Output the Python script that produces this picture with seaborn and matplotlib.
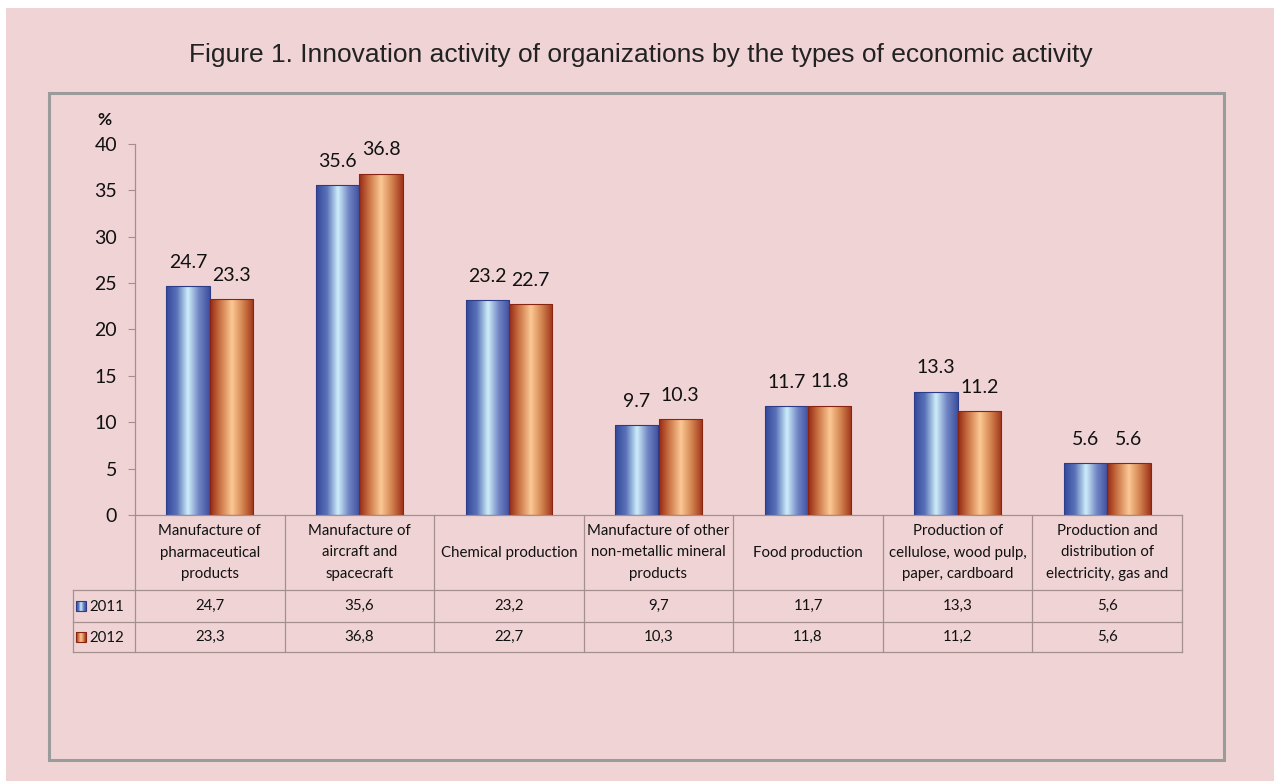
import numpy as np
import pandas as pd
import matplotlib
matplotlib.use('Agg')
import matplotlib.pyplot as plt
from matplotlib.colors import LinearSegmentedColormap
from matplotlib.patches import Rectangle
import seaborn as sns

# data
categories = [
    'Manufacture of\npharmaceutical\nproducts',
    'Manufacture of\naircraft and\nspacecraft',
    'Chemical production',
    'Manufacture of other\nnon-metallic mineral\nproducts',
    'Food production',
    'Production of\ncellulose, wood pulp,\npaper, cardboard',
    'Production and\ndistribution of\nelectricity, gas and',
]
years = ['2011', '2012']
values_2011 = [24.7, 35.6, 23.2, 9.7, 11.7, 13.3, 5.6]
values_2012 = [23.3, 36.8, 22.7, 10.3, 11.8, 11.2, 5.6]
y_ticks = [0, 5, 10, 15, 20, 25, 30, 35, 40]

title = 'Figure 1. Innovation activity of organizations by the types of economic activity'

plt.rcParams['font.family'] = ['Lato', 'DejaVu Sans']

df = pd.DataFrame({
    'category': categories * 2,
    'year': [years[0]] * len(categories) + [years[1]] * len(categories),
    'value': values_2011 + values_2012,
})

pink = '#f0d4d5'
line_col = '#a48e8e'
blue_cmap = LinearSegmentedColormap.from_list(
    'blue_bar', ['#33479a', '#5a72b8', '#cdeefa', '#7185c4', '#3d4e9e'])
orange_cmap = LinearSegmentedColormap.from_list(
    'orange_bar', ['#962812', '#cf7a4a', '#fbc894', '#d2834f', '#9e3219'])
edge_cols = ['#2c3c88', '#8a2410']
grad = np.linspace(0, 1, 256).reshape(1, -1)

fig = plt.figure(figsize=(12.74, 7.81), dpi=100, facecolor='white')

# background + frame, pixel coordinates
bg = fig.add_axes([0, 0, 1, 1], zorder=0)
bg.set_xlim(0, 1274)
bg.set_ylim(781, 0)
bg.axis('off')
bg.add_patch(Rectangle((6, 8), 1274, 781, facecolor=pink, edgecolor='none'))
bg.add_patch(Rectangle((49, 93), 1175, 667, facecolor='none', edgecolor='#9b9b9b', lw=2.2))
bg.text(641, 55, title, ha='center', va='center', fontsize=19,
        family=['Liberation Sans Narrow', 'Liberation Sans', 'DejaVu Sans'], color='#222222')

ax = fig.add_axes([135 / 1274, 1 - 515 / 781, 1047 / 1274, 371 / 781], zorder=1)
ax.set_facecolor('none')

sns.barplot(data=df, x='category', y='value', hue='year', hue_order=years,
            palette=['#4a62b0', '#c0603a'], width=0.58, gap=0, legend=False,
            errorbar=None, ax=ax)

# gradient fill clipped to every bar
for container, cmap, ec in zip(ax.containers, [blue_cmap, orange_cmap], edge_cols):
    for p in container:
        x0, y0, w, h = p.get_x(), p.get_y(), p.get_width(), p.get_height()
        im = ax.imshow(grad, extent=[x0, x0 + w, y0, y0 + h], aspect='auto',
                       cmap=cmap, zorder=2, interpolation='bilinear')
        im.set_clip_path(p)
        p.set_facecolor('none')
        p.set_edgecolor(ec)
        p.set_linewidth(0.8)
        p.set_zorder(3)
    ax.bar_label(container, labels=[f'{v:.1f}' for v in container.datavalues],
                 padding=11, fontsize=14, color='#111111')

ax.set_xlim(-0.5, len(categories) - 0.5)
ax.set_ylim(0, 40)
ax.set_yticks(y_ticks)
ax.tick_params(axis='y', direction='out', length=5, color=line_col, labelsize=14,
               pad=8, labelcolor='#111111')
ax.tick_params(axis='x', length=0, labelbottom=False)
ax.set_xlabel('')
ax.set_ylabel('')
for s in ['top', 'right']:
    ax.spines[s].set_visible(False)
for s in ['left', 'bottom']:
    ax.spines[s].set_color(line_col)
    ax.spines[s].set_linewidth(0.9)

fig.text(104 / 1274, 1 - 120 / 781, '%', fontsize=12.5, fontweight='bold',
         ha='center', va='center', color='#111111')

# data table under the axis
trans = ax.get_xaxis_transform()
px = 1047 / len(categories)
leg_x = -0.5 - 62 / px
row_y = [0, -75 / 371, -107 / 371, -137 / 371]
for y in row_y[1:]:
    ax.plot([leg_x, len(categories) - 0.5], [y, y], color=line_col, lw=0.9,
            transform=trans, clip_on=False)
for k in range(len(categories) + 1):
    ax.plot([k - 0.5, k - 0.5], [0, row_y[-1]], color=line_col, lw=0.9,
            transform=trans, clip_on=False)
ax.plot([leg_x, leg_x], [row_y[1], row_y[-1]], color=line_col, lw=0.9,
        transform=trans, clip_on=False)

for i, cat in enumerate(categories):
    ax.text(i, (row_y[0] + row_y[1]) / 2, cat, ha='center', va='center',
            fontsize=10.8, linespacing=1.65, transform=trans, color='#111111')
for r, vals in enumerate([values_2011, values_2012]):
    yc = (row_y[r + 1] + row_y[r + 2]) / 2
    for i, v in enumerate(vals):
        ax.text(i, yc, f'{v:.1f}'.replace('.', ','), ha='center', va='center',
                fontsize=10.8, transform=trans, color='#111111')

# legend keys in the first table column
for r, (yr, cmap, ec) in enumerate(zip(years, [blue_cmap, orange_cmap], edge_cols)):
    yc = 606 + r * 31
    key = Rectangle((76, yc - 5), 10, 10, facecolor='none', edgecolor=ec, lw=0.8, zorder=3)
    bg.add_patch(key)
    im = bg.imshow(grad, extent=[76, 86, yc + 5, yc - 5], aspect='auto', cmap=cmap,
                   zorder=2, interpolation='bilinear')
    im.set_clip_path(key)
    bg.text(89, yc + 1, yr, ha='left', va='center', fontsize=10.8, color='#111111')
bg.set_xlim(0, 1274)
bg.set_ylim(781, 0)

fig.savefig('out.png', dpi=100, facecolor=fig.get_facecolor())
